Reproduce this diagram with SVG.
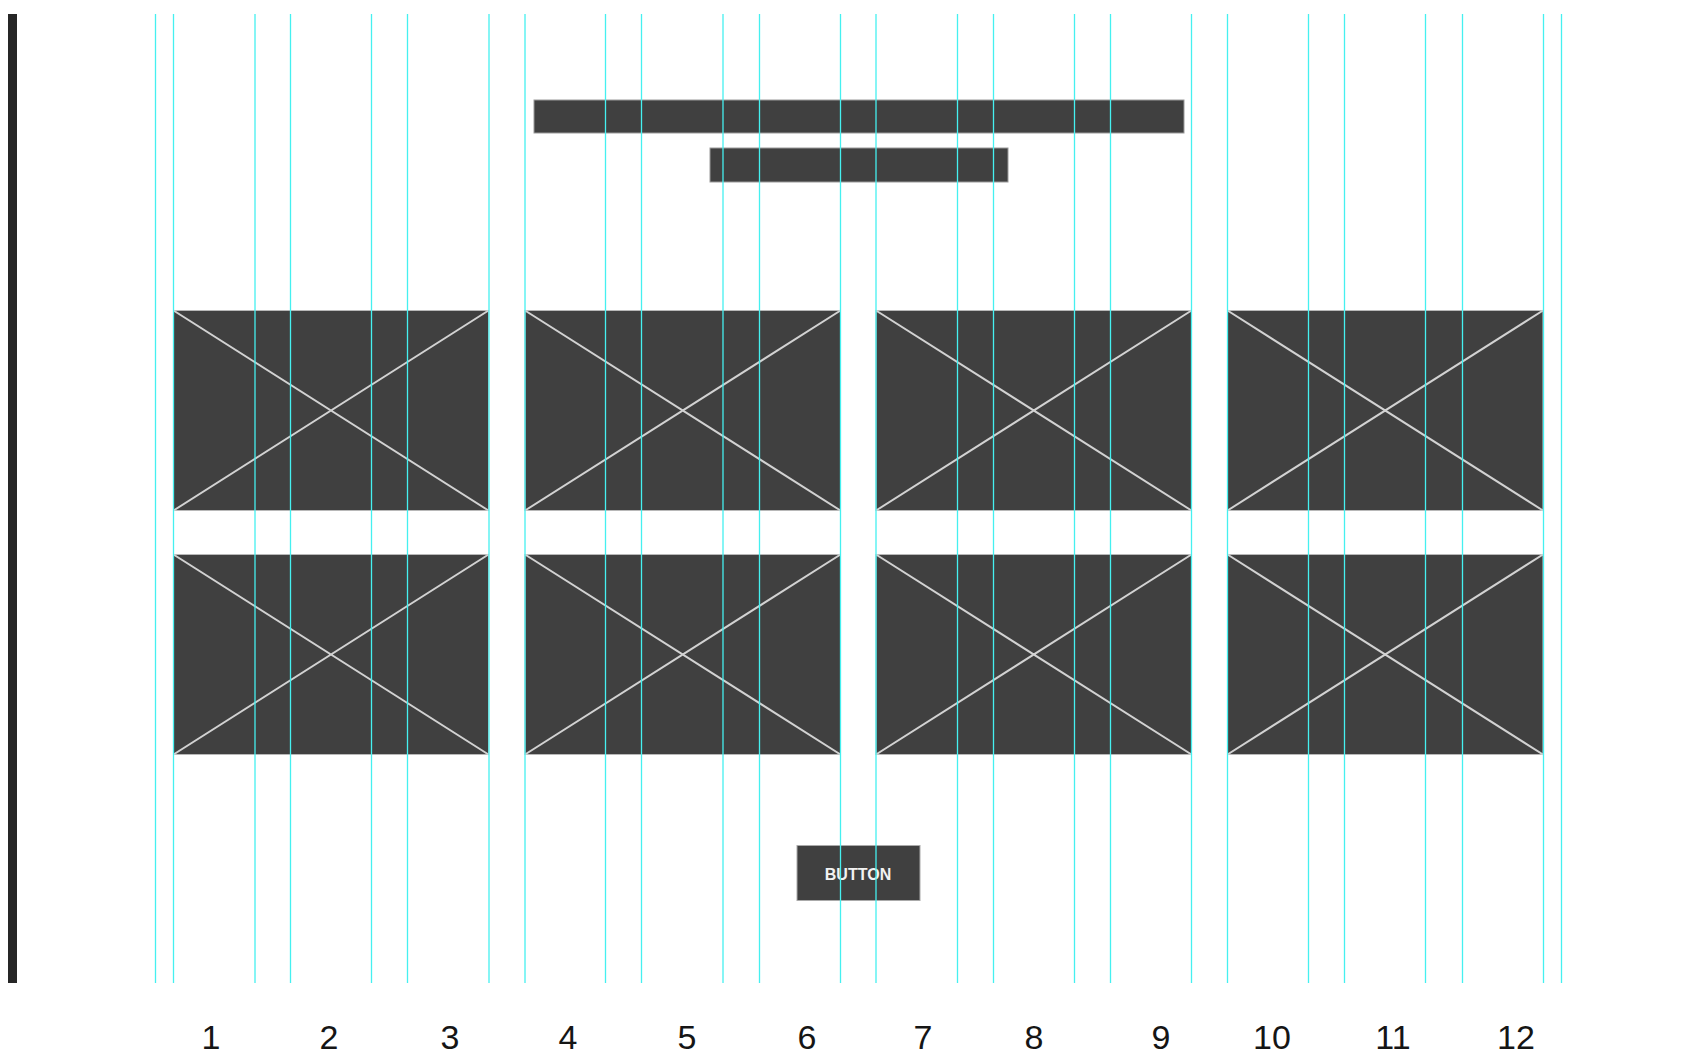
<svg xmlns="http://www.w3.org/2000/svg" width="1697" height="1057" viewBox="0 0 1697 1057">
<style>
.bg{fill:#ffffff}
.img{fill:#404040;stroke:#b8b8b8;stroke-width:1}
.x{stroke:#d2d2d2;stroke-width:2;fill:none}
.bar{fill:#404040;stroke:#9a9a9a;stroke-width:1}
.btn{fill:#404040;stroke:#aaaaaa;stroke-width:1}
.btntext{font-family:"Liberation Sans",Arial,sans-serif;font-size:16px;font-weight:bold;fill:#f2f2f2}
.grid line{stroke:#45f0f0;stroke-width:1.3}
.num{font-family:"Liberation Sans",Arial,sans-serif;font-size:34px;fill:#151515;text-anchor:middle}
</style>
<rect class="bg" x="0" y="0" width="1697" height="1057"/>
<g id="sidebar"><rect x="8" y="14" width="9" height="969" fill="#262626"/></g>
<g id="title-bar"><rect class="bar" x="534" y="100" width="650" height="33"/></g>
<g id="subtitle-bar"><rect class="bar" x="710" y="148" width="298" height="34"/></g>
<g id="img-r1c1"><rect class="img" x="173.5" y="310.5" width="315" height="200"/><path class="x" d="M173.5 310.5L488.5 510.5M488.5 310.5L173.5 510.5"/></g>
<g id="img-r1c2"><rect class="img" x="525" y="310.5" width="315.5" height="200"/><path class="x" d="M525 310.5L840.5 510.5M840.5 310.5L525 510.5"/></g>
<g id="img-r1c3"><rect class="img" x="876" y="310.5" width="315.5" height="200"/><path class="x" d="M876 310.5L1191.5 510.5M1191.5 310.5L876 510.5"/></g>
<g id="img-r1c4"><rect class="img" x="1227.5" y="310.5" width="315.5" height="200"/><path class="x" d="M1227.5 310.5L1543 510.5M1543 310.5L1227.5 510.5"/></g>
<g id="img-r2c1"><rect class="img" x="173.5" y="554.5" width="315" height="200"/><path class="x" d="M173.5 554.5L488.5 754.5M488.5 554.5L173.5 754.5"/></g>
<g id="img-r2c2"><rect class="img" x="525" y="554.5" width="315.5" height="200"/><path class="x" d="M525 554.5L840.5 754.5M840.5 554.5L525 754.5"/></g>
<g id="img-r2c3"><rect class="img" x="876" y="554.5" width="315.5" height="200"/><path class="x" d="M876 554.5L1191.5 754.5M1191.5 554.5L876 754.5"/></g>
<g id="img-r2c4"><rect class="img" x="1227.5" y="554.5" width="315.5" height="200"/><path class="x" d="M1227.5 554.5L1543 754.5M1543 554.5L1227.5 754.5"/></g>
<g id="button"><rect class="btn" x="797" y="845.5" width="123" height="55"/><text class="btntext" x="858" y="880" text-anchor="middle">BUTTON</text></g>
<g id="grid" class="grid">
<line x1="155.5" y1="14" x2="155.5" y2="983"/>
<line x1="173.5" y1="14" x2="173.5" y2="983"/>
<line x1="255" y1="14" x2="255" y2="983"/>
<line x1="290.5" y1="14" x2="290.5" y2="983"/>
<line x1="371.5" y1="14" x2="371.5" y2="983"/>
<line x1="407.5" y1="14" x2="407.5" y2="983"/>
<line x1="489" y1="14" x2="489" y2="983"/>
<line x1="525" y1="14" x2="525" y2="983"/>
<line x1="605.5" y1="14" x2="605.5" y2="983"/>
<line x1="641.5" y1="14" x2="641.5" y2="983"/>
<line x1="723" y1="14" x2="723" y2="983"/>
<line x1="759.5" y1="14" x2="759.5" y2="983"/>
<line x1="840.5" y1="14" x2="840.5" y2="983"/>
<line x1="876" y1="14" x2="876" y2="983"/>
<line x1="957.5" y1="14" x2="957.5" y2="983"/>
<line x1="993.5" y1="14" x2="993.5" y2="983"/>
<line x1="1074.5" y1="14" x2="1074.5" y2="983"/>
<line x1="1110.5" y1="14" x2="1110.5" y2="983"/>
<line x1="1191.5" y1="14" x2="1191.5" y2="983"/>
<line x1="1227.5" y1="14" x2="1227.5" y2="983"/>
<line x1="1308.5" y1="14" x2="1308.5" y2="983"/>
<line x1="1344.5" y1="14" x2="1344.5" y2="983"/>
<line x1="1425.5" y1="14" x2="1425.5" y2="983"/>
<line x1="1462.5" y1="14" x2="1462.5" y2="983"/>
<line x1="1543.5" y1="14" x2="1543.5" y2="983"/>
<line x1="1561.5" y1="14" x2="1561.5" y2="983"/>
</g>
<g id="column-numbers">
<text class="num" x="211" y="1049">1</text>
<text class="num" x="329" y="1049">2</text>
<text class="num" x="450" y="1049">3</text>
<text class="num" x="568" y="1049">4</text>
<text class="num" x="687" y="1049">5</text>
<text class="num" x="807" y="1049">6</text>
<text class="num" x="923" y="1049">7</text>
<text class="num" x="1034" y="1049">8</text>
<text class="num" x="1161" y="1049">9</text>
<text class="num" x="1272" y="1049">10</text>
<text class="num" x="1393" y="1049">11</text>
<text class="num" x="1516" y="1049">12</text>
</g>
</svg>
